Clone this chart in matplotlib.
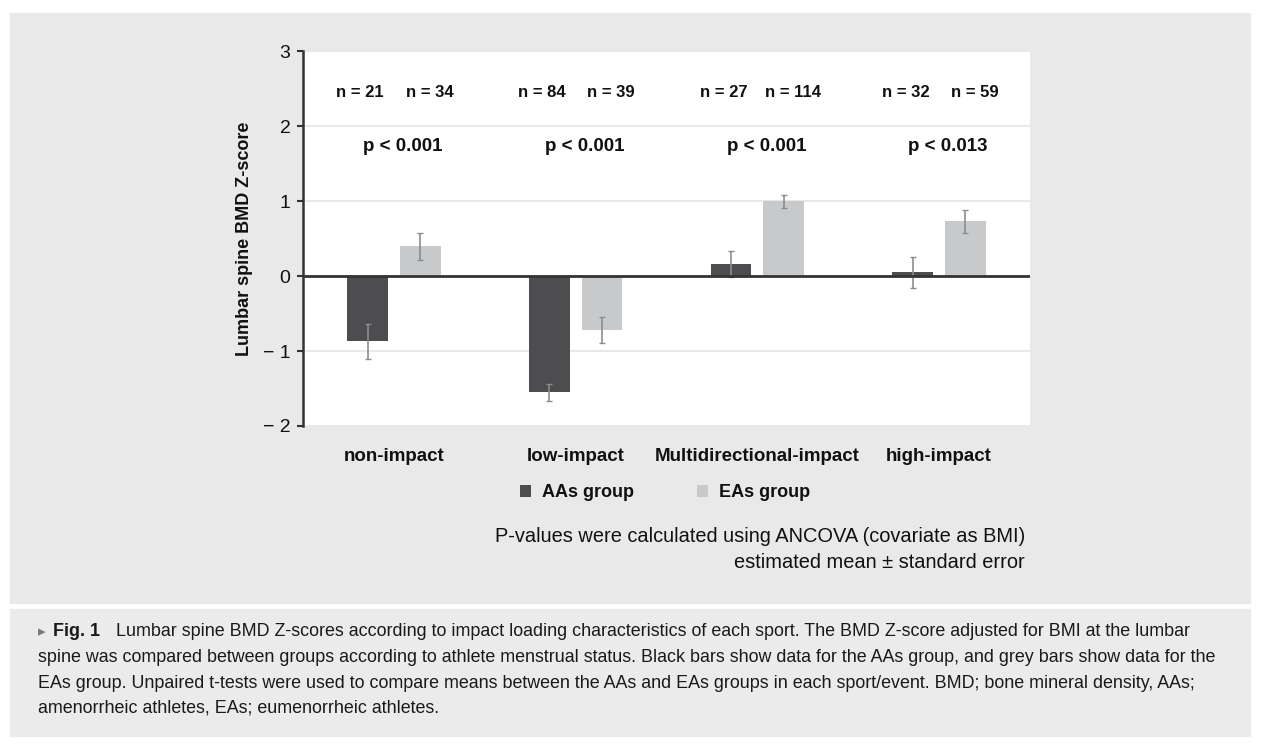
import numpy as np
import matplotlib
matplotlib.use("Agg")
from matplotlib import pyplot as plt
from matplotlib.patches import Rectangle

plt.rcParams["font.family"] = ["Liberation Sans", "DejaVu Sans"]

categories = ["non-impact", "low-impact", "Multidirectional-impact", "high-impact"]
aas_mean = [-0.87, -1.55, 0.16, 0.05]
aas_se = [0.23, 0.11, 0.17, 0.21]
eas_mean = [0.40, -0.72, 1.00, 0.73]
eas_se = [0.18, 0.17, 0.085, 0.15]
aas_n = [21, 84, 27, 32]
eas_n = [34, 39, 114, 59]
p_labels = ["p < 0.001", "p < 0.001", "p < 0.001", "p < 0.013"]

caption = [
    "spine was compared between groups according to athlete menstrual status. Black bars show data for the AAs group, and grey bars show data for the",
    "EAs group. Unpaired t-tests were used to compare means between the AAs and EAs groups in each sport/event. BMD; bone mineral density, AAs;",
    "amenorrheic athletes, EAs; eumenorrheic athletes.",
]

W, H = 1261, 751
fig = plt.figure(figsize=(W / 100, H / 100), dpi=100)
fig.patch.set_facecolor("white")

# grey panels behind everything
fig.patches.append(Rectangle((10 / W, 1 - 603 / H), 1240 / W, 590 / H,
                             transform=fig.transFigure, color="#e9e9e9", zorder=-10))
fig.patches.append(Rectangle((10 / W, 1 - 736 / H), 1240 / W, 127 / H,
                             transform=fig.transFigure, color="#ebebeb", zorder=-10))

ax = fig.add_axes([303 / W, 1 - 426 / H, 727 / W, 375 / H])
ax.set_zorder(1)
ax.set_facecolor("white")

x = np.arange(len(categories))
off = 0.145
bw = 0.225
dark = "#4d4d4f"
light = "#c8c9cb"
ekw = dict(ecolor="#8c8c8c", elinewidth=1.2, capsize=2.5, capthick=1.0)
b1 = ax.bar(x - off, aas_mean, bw, color=dark, yerr=aas_se, error_kw=ekw,
            label="AAs group", zorder=3)
b2 = ax.bar(x + off, eas_mean, bw, color=light, yerr=eas_se, error_kw=ekw,
            label="EAs group", zorder=3)

ax.axhline(0, color="#333333", lw=2, zorder=4)

ax.set_xlim(-0.5, 3.5)
ax.set_ylim(-2, 3.005)
ax.set_yticks([-2, -1, 0, 1, 2, 3])
ax.set_yticklabels(["\u2212 2", "\u2212 1", "0", "1", "2", "3"])
ax.yaxis.grid(True, color="#e4e4e4", lw=1.2, zorder=0)
ax.set_axisbelow(True)
for s in ["top", "right", "bottom"]:
    ax.spines[s].set_visible(False)
ax.spines["left"].set_color("#333333")
ax.spines["left"].set_linewidth(1.8)
ax.tick_params(axis="y", length=4, width=1.5, color="#333333", labelsize=14,
               pad=5, labelcolor="#111111")
ax.set_xticks(x, categories)
ax.tick_params(axis="x", length=0, pad=16, labelsize=13.5)
for t in ax.get_xticklabels():
    t.set_fontweight("bold")
    t.set_color("#111111")

ax.set_ylabel("Lumbar spine BMD Z-score", fontsize=13, fontweight="bold",
              color="#111111", labelpad=7)

for i in range(len(categories)):
    ax.text(x[i] - 0.185, 2.45, f"n = {aas_n[i]}", ha="center", va="center",
            fontsize=12, fontweight="bold", color="#111111")
    ax.text(x[i] + 0.195, 2.45, f"n = {eas_n[i]}", ha="center", va="center",
            fontsize=12, fontweight="bold", color="#111111")
    ax.text(x[i] + 0.05, 1.73, p_labels[i], ha="center", va="center",
            fontsize=13.5, fontweight="bold", color="#111111")

leg = fig.legend(handles=[b1, b2], loc="center", bbox_to_anchor=(665 / W, 1 - 493 / H),
                 ncol=2, frameon=False, fontsize=13, handlelength=0.6,
                 handleheight=0.6, handletextpad=0.6, columnspacing=3.5)
for t in leg.get_texts():
    t.set_fontweight("bold")
    t.set_color("#111111")

fig.text(1025 / W, 1 - 537 / H, "P-values were calculated using ANCOVA (covariate as BMI)",
         ha="right", va="center", fontsize=14.4, color="#111111")
fig.text(1025 / W, 1 - 562 / H, "estimated mean \u00b1 standard error",
         ha="right", va="center", fontsize=14.4, color="#111111")

# caption
cap_fs = 12.9
fig.text(38 / W, 1 - 632 / H, "\u25b8", ha="left", va="center", fontsize=11,
         color="#7a7a7a", family=["DejaVu Sans"])
fig.text(53 / W, 1 - 632 / H, "Fig. 1", ha="left", va="center", fontsize=cap_fs,
         fontweight="bold", color="#1a1a1a")
fig.text(116 / W, 1 - 632 / H,
         "Lumbar spine BMD Z-scores according to impact loading characteristics of each sport. The BMD Z-score adjusted for BMI at the lumbar",
         ha="left", va="center", fontsize=cap_fs, color="#1a1a1a")
for k, line in enumerate(caption):
    fig.text(38 / W, 1 - (658 + 25 * k) / H, line, ha="left", va="center",
             fontsize=cap_fs, color="#1a1a1a")

fig.savefig("out.png", dpi=100, facecolor=fig.get_facecolor())
